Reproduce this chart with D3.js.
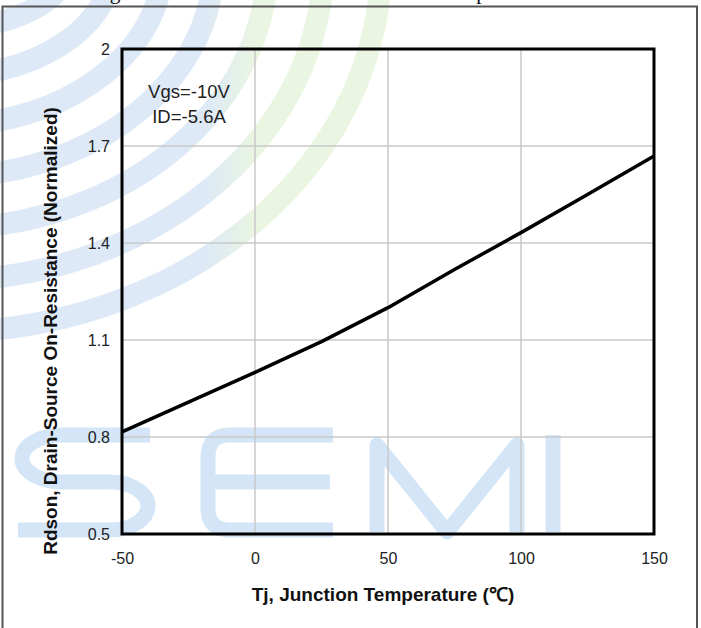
<!DOCTYPE html>
<html>
<head>
<meta charset="utf-8">
<script src="https://cdn.jsdelivr.net/npm/d3@7"></script>
<style>
  html, body { margin: 0; padding: 0; background: #fff; }
  svg { display: block; }
  .tick text { font-family: "Liberation Sans", Arial, sans-serif; }
</style>
</head>
<body>
<div id="chart"></div>
<script>
// Normalized on-resistance vs junction temperature
const tempTicks = [-50, 0, 50, 100, 150];
const rdsTicks = [0.5, 0.8, 1.1, 1.4, 1.7, 2];
const tj = [-50, -25, 0, 25, 50, 75, 100, 125, 150];
const rdson = [0.816, 0.908, 1.0, 1.095, 1.2, 1.318, 1.432, 1.55, 1.669];
const notes = ["Vgs=-10V", "ID=-5.6A"];

const W = 701, H = 628;
const margin = { top: 49, right: 47, bottom: 94, left: 122 },
      width = W - margin.left - margin.right,
      height = H - margin.top - margin.bottom;

const root = d3.select("#chart").append("svg")
    .attr("width", W)
    .attr("height", H);

// faint logo watermark behind the chart
const defs = root.append("defs");
const grad = defs.append("linearGradient")
    .attr("id", "wmGrad")
    .attr("gradientUnits", "userSpaceOnUse")
    .attr("x1", 205).attr("y1", 0)
    .attr("x2", 255).attr("y2", 0);
grad.append("stop").attr("offset", 0).attr("stop-color", "#dde9f6");
grad.append("stop").attr("offset", 1).attr("stop-color", "#eaf5e2");

const wm = root.append("g").attr("fill", "none");

// concentric stripes: top crossing x, left crossing y
const stripeTop = [380, 322, 266, 212, 160, 108, 58];
const stripeLeft = [330, 278, 226, 174, 122, 72, 24];
wm.selectAll(".band")
    .data(stripeTop)
    .enter().append("path")
    .attr("class", "band")
    .attr("d", (xt, i) => {
      const yl = stripeLeft[i];
      return `M-10,${yl} A${xt + 60},${yl + 40} 0 0 0 ${xt},-10`;
    })
    .attr("stroke", "url(#wmGrad)")
    .attr("stroke-width", 22);

const letters = [
  "M150,435 H62 A40,23.5 0 0 0 62,482 H110 A38,24 0 0 1 110,530 H18",
  "M333,435 H230 Q208,435 208,457 V508 Q208,530 230,530 H333 M208,482 H330",
  "M377,532 V445 L447,532 L517,445 V532",
  "M553,435 V532"
];
wm.selectAll(".letter")
    .data(letters)
    .enter().append("path")
    .attr("class", "letter")
    .attr("d", d => d)
    .attr("stroke", "#d3e5f6")
    .attr("stroke-width", 15)
    .attr("stroke-linejoin", "round");

// page frame and the clipped caption above it
root.append("text")
    .attr("x", 92)
    .attr("y", -1)
    .attr("font-family", "Liberation Serif, serif")
    .attr("font-size", 21.3)
    .attr("fill", "#111")
    .text("Figure 6. Normalized On-Resistance vs. Temperature");

root.append("path")
    .attr("d", `M2.5,${H} V6.5 H697 V${H}`)
    .attr("fill", "none")
    .attr("stroke", "#555")
    .attr("stroke-width", 2);

const svg = root.append("g")
    .attr("transform", `translate(${margin.left},${margin.top})`);

const x = d3.scaleLinear().domain([-50, 150]).range([0, width]);
const y = d3.scaleLinear().domain([0.5, 2]).range([height, 0]);

// grid
svg.append("g")
    .selectAll("line")
    .data(tempTicks.slice(1, -1))
    .enter().append("line")
    .attr("x1", d => x(d)).attr("x2", d => x(d))
    .attr("y1", 0).attr("y2", height)
    .attr("stroke", "#c8c8c8")
    .attr("stroke-width", 1.5);

svg.append("g")
    .selectAll("line")
    .data(rdsTicks.slice(1, -1))
    .enter().append("line")
    .attr("x1", 0).attr("x2", width)
    .attr("y1", d => y(d)).attr("y2", d => y(d))
    .attr("stroke", "#c8c8c8")
    .attr("stroke-width", 1.5);

// axes (labels only, the box is drawn separately)
const xAxis = svg.append("g")
    .attr("transform", `translate(0,${height})`)
    .call(d3.axisBottom(x).tickValues(tempTicks).tickSize(0).tickPadding(19).tickFormat(d => String(d)));
xAxis.select(".domain").remove();
xAxis.selectAll("text").attr("font-size", 16).attr("fill", "#222");

const yAxis = svg.append("g")
    .call(d3.axisLeft(y).tickValues(rdsTicks).tickSize(0).tickPadding(12).tickFormat(d => String(d)));
yAxis.select(".domain").remove();
yAxis.selectAll("text").attr("font-size", 16).attr("fill", "#222");

const line = d3.line()
    .x((d, i) => x(tj[i]))
    .y(d => y(d));

svg.append("path")
    .datum(rdson)
    .attr("d", line)
    .attr("fill", "none")
    .attr("stroke", "#000")
    .attr("stroke-width", 3.5)
    .attr("stroke-linejoin", "round");

svg.append("rect")
    .attr("width", width)
    .attr("height", height)
    .attr("fill", "none")
    .attr("stroke", "#000")
    .attr("stroke-width", 3);

// condition notes
svg.append("g")
    .selectAll("text")
    .data(notes)
    .enter().append("text")
    .attr("x", 67)
    .attr("y", (d, i) => 49 + i * 25)
    .attr("text-anchor", "middle")
    .attr("font-family", "Liberation Sans, Arial, sans-serif")
    .attr("font-size", 18.5)
    .attr("fill", "#222")
    .text(d => d);

// axis titles
root.append("text")
    .attr("x", 383)
    .attr("y", 601)
    .attr("text-anchor", "middle")
    .attr("font-family", "Liberation Sans, Arial, sans-serif")
    .attr("font-weight", "bold")
    .attr("font-size", 19)
    .attr("fill", "#111")
    .text("Tj, Junction Temperature (℃)");

root.append("text")
    .attr("transform", "translate(57,331) rotate(-90)")
    .attr("text-anchor", "middle")
    .attr("font-family", "Liberation Sans, Arial, sans-serif")
    .attr("font-weight", "bold")
    .attr("font-size", 19)
    .attr("fill", "#111")
    .text("Rdson, Drain-Source On-Resistance (Normalized)");
</script>
</body>
</html>
